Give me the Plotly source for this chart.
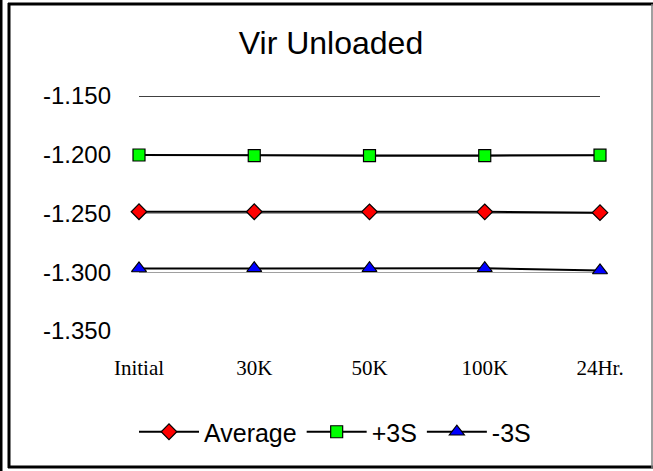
import plotly.graph_objects as go

categories = ["Initial", "30K", "50K", "100K", "24Hr."]
average = [-1.2485, -1.2485, -1.2486, -1.2486, -1.2493]
plus3s = [-1.2002, -1.2008, -1.2008, -1.2008, -1.2004]
minus3s = [-1.2968, -1.2966, -1.2966, -1.2966, -1.2985]
y_ticks = [-1.15, -1.2, -1.25, -1.3, -1.35]
y_tick_labels = ["-1.150", "-1.200", "-1.250", "-1.300", "-1.350"]

W, H = 653, 471
L, R, T, B = 139, 53, 96, 140
pw, ph = W - L - R, H - T - B

def px(x):
    return (x - L) / pw

def py(y):
    return (H - B - y) / ph

fig = go.Figure()
series = [
    ("Average", average, "diamond", "#ff0000", 12),
    ("+3S", plus3s, "square", "#00ff00", 12),
    ("-3S", minus3s, "triangle-up", "#0000ff", 13),
]
for name, vals, sym, col, sz in series:
    fig.add_trace(go.Scatter(
        x=categories, y=vals, name=name, mode="lines+markers",
        line=dict(color="black", width=2),
        marker=dict(symbol=sym, color=col, size=sz, line=dict(color="black", width=1.2)),
        cliponaxis=False,
    ))

shapes = [
    # outer frame
    dict(type="line", xref="paper", yref="paper", x0=px(9), x1=px(9), y0=py(3), y1=py(468), line=dict(color="black", width=3)),
    dict(type="line", xref="paper", yref="paper", x0=px(8), x1=px(653), y0=py(4), y1=py(4), line=dict(color="black", width=3)),
    dict(type="line", xref="paper", yref="paper", x0=px(8), x1=px(653), y0=py(467), y1=py(467), line=dict(color="black", width=3)),
    dict(type="line", xref="paper", yref="paper", x0=px(652), x1=px(652), y0=py(4), y1=py(468), line=dict(color="#808080", width=1.5)),
    dict(type="line", xref="paper", yref="paper", x0=px(1), x1=px(1), y0=py(0), y1=py(471), line=dict(color="black", width=3)),
    # top gridline black
    dict(type="line", xref="paper", yref="y", x0=0, x1=1, y0=-1.15, y1=-1.15, line=dict(color="black", width=1.5), layer="above"),
]

fig.update_layout(
    width=W, height=H,
    margin=dict(l=L, r=R, t=T, b=B),
    paper_bgcolor="white", plot_bgcolor="white",
    title=dict(text="Vir Unloaded", x=331 / W, xanchor="center",
               y=1 - 43 / H, yanchor="middle",
               font=dict(family="Liberation Sans, Arial", size=32, color="black")),
    xaxis=dict(
        type="category", range=[0, 4], showgrid=False, zeroline=False, showline=False,
        ticks="", tickfont=dict(family="Liberation Serif, Times New Roman", size=21, color="black"),
        ticklabelstandoff=22,
    ),
    yaxis=dict(
        range=[-1.35, -1.15], tickvals=y_ticks, ticktext=y_tick_labels,
        showgrid=True, gridcolor="#a0a0a0", gridwidth=1.2, zeroline=False, showline=False,
        ticks="", tickfont=dict(family="Liberation Sans, Arial", size=24, color="black"),
        ticklabelstandoff=27,
    ),
    legend=dict(
        orientation="h", x=(335 - L) / pw, xanchor="center", y=py(432), yanchor="middle",
        font=dict(family="Liberation Sans, Arial", size=25, color="black"),
        itemwidth=60, bgcolor="rgba(0,0,0,0)",
    ),
    shapes=shapes,
    showlegend=True,
)

fig.write_html("out.html", post_script="document.body.style.margin='0px';",
               config={"displayModeBar": False})
